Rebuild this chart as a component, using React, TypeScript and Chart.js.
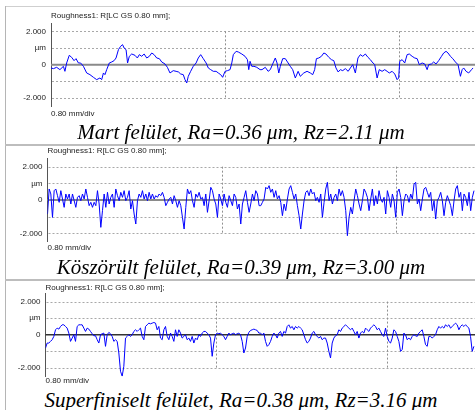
import React, { useEffect, useRef } from "react";
import { Chart, registerables } from "chart.js";

Chart.register(...registerables);

// ---------- data ----------
const PANEL_TITLE = "Roughness1: R[LC GS 0.80 mm];";
const X_DIV_LABEL = "0.80 mm/div";
const X_DIV_MM = 0.8;

const Y_TICK_VALUES = [-2, -1, 0, 1, 2];
const Y_TICK_LABELS = ["-2.000", "", "0", "µm", "2.000"];
const Y_MIN = -2.5;
const Y_MAX = 2.5;

const CAPTIONS = [
  "Mart felület, Ra=0.36 μm, Rz=2.11 μm",
  "Köszörült felület, Ra=0.39 μm, Rz=3.00 μm",
  "Superfiniselt felület, Ra=0.38 μm, Rz=3.16 μm",
];

// Milled profile: [x (mm), height (µm)]
const PROFILE_1 = [
  [0.000,-0.20],[0.011,-0.24],[0.026,-0.16],[0.041,-0.30],[0.057,-0.10],[0.064,-0.40],[0.072,0.10],[0.084,0.56],[0.095,0.44],[0.106,0.24],
  [0.115,0.36],[0.126,0.10],[0.136,0.10],[0.149,-0.10],[0.164,-0.50],[0.179,-0.60],[0.195,-0.76],[0.210,-0.90],[0.225,-0.80],[0.233,-0.90],
  [0.241,-0.50],[0.248,-0.60],[0.256,-0.30],[0.268,0.10],[0.279,0.16],[0.290,0.24],[0.299,0.40],[0.310,0.90],[0.320,1.10],[0.329,1.20],
  [0.336,1.00],[0.345,0.90],[0.352,0.10],[0.360,0.50],[0.371,0.64],[0.386,0.56],[0.397,0.40],[0.406,0.60],[0.417,0.50],[0.428,0.64],
  [0.440,0.40],[0.452,0.50],[0.463,0.70],[0.474,0.60],[0.486,0.40],[0.498,0.36],[0.509,0.16],[0.524,0.04],[0.535,-0.16],[0.547,-0.50],
  [0.562,-0.36],[0.575,-0.40],[0.586,-0.44],[0.596,-0.56],[0.608,-0.60],[0.616,-0.90],[0.624,-1.10],[0.631,-0.70],[0.642,-0.40],[0.654,-0.10],
  [0.667,0.10],[0.677,0.40],[0.688,0.60],[0.700,0.36],[0.713,0.10],[0.723,-0.20],[0.734,-0.30],[0.746,-0.40],[0.759,-0.40],[0.769,-0.50],
  [0.780,-0.60],[0.789,-0.76],[0.800,-0.40],[0.811,-0.36],[0.823,-0.30],[0.831,0.10],[0.838,0.60],[0.851,0.80],[0.861,0.76],[0.877,0.64],
  [0.892,0.50],[0.903,0.30],[0.909,-0.30],[0.915,0.20],[0.923,-0.10],[0.933,-0.10],[0.946,-0.16],[0.961,-0.30],
  [0.970,-0.30],[0.985,-0.16],[0.998,-0.40],[1.008,-0.30],[1.019,0.04],[1.031,0.40],[1.039,0.10],[1.047,-0.50],[1.054,-0.10],[1.065,0.36],
  [1.077,0.36],[1.090,0.10],[1.100,-0.10],[1.111,-0.30],[1.123,-0.80],[1.136,-0.40],[1.146,-0.70],[1.162,-0.50],[1.177,-0.40],[1.192,-0.50],
  [1.203,-0.60],[1.212,-0.30],[1.220,0.36],[1.231,0.40],[1.243,0.50],[1.254,0.70],[1.264,0.64],[1.277,0.44],[1.289,0.30],[1.300,0.24],
  [1.310,-0.20],[1.320,-0.44],[1.330,-0.30],[1.341,-0.36],[1.353,-0.24],[1.366,-0.40],[1.376,-0.20],[1.387,0.00],[1.399,-0.50],[1.411,0.40],
  [1.422,0.60],[1.433,0.50],[1.445,0.64],[1.457,0.44],[1.468,0.30],[1.476,0.16],[1.488,0.00],[1.499,-0.80],[1.509,-0.30],[1.522,-0.40],
  [1.534,-0.30],[1.545,-0.40],[1.555,-0.50],[1.568,-0.40],[1.580,-0.56],[1.591,-0.90],[1.598,-0.80],[1.603,0.20],[1.614,0.30],[1.626,0.10],
  [1.637,0.60],[1.647,0.64],[1.660,0.50],[1.672,0.40],[1.683,0.36],[1.693,0.00],[1.706,0.10],[1.718,0.04],[1.729,-0.30],[1.736,0.00],
  [1.749,0.04],[1.759,0.16],[1.770,0.04],[1.782,0.24],[1.795,0.50],[1.805,0.70],[1.816,0.80],[1.825,0.70],[1.836,0.50],[1.847,0.36],
  [1.859,0.16],[1.871,0.00],[1.882,-0.70],[1.890,-0.30],[1.897,-0.20],[1.908,-0.40],[1.920,-0.50],[1.933,-0.30],[1.940,-0.20],
];

// Ground profile: heights (µm), sampled every PROFILE_2_STEP_MM
const PROFILE_2_STEP_MM = 0.00766;
const PROFILE_2 = [
  -0.84,0.66,0.36,-1.04,0.56,0.66,0.26,-0.14,0.56,0.06,-0.44,0.36,0.06,0.36,-0.24,0.36,-0.04,-0.44,0.16,0.26,
  -0.04,0.36,0.06,0.66,0.16,-0.34,-0.14,-0.44,-0.14,-0.34,0.56,-0.24,-1.64,-0.64,0.36,-0.44,0.46,-0.24,0.16,0.36,
  -0.44,0.66,0.26,-0.04,0.46,0.16,0.56,-0.04,0.16,0.56,-0.54,-0.04,-0.84,-1.44,-0.04,0.36,0.16,0.56,0.06,0.36,
  -0.04,0.46,0.06,0.36,0.06,0.26,0.16,0.36,0.26,0.46,0.16,-0.34,-0.14,0.06,0.16,-0.24,0.26,-0.04,-0.44,-0.04,
  -0.34,-1.04,-1.74,-0.44,0.66,0.36,0.56,-0.04,-0.44,0.36,0.16,0.46,0.06,0.16,-0.34,0.36,-0.74,-0.04,0.76,0.56,
  0.06,-0.24,-1.04,0.36,0.06,-0.34,0.36,-0.14,-0.44,0.26,-0.04,-0.34,0.36,0.16,-0.54,-0.24,-1.44,-0.24,0.16,0.56,
  -0.14,-0.74,-0.24,0.36,-0.04,0.56,0.36,-0.34,
  -0.34,-0.14,0.06,0.76,0.66,0.86,0.46,0.66,0.16,0.56,0.06,0.26,-0.14,-0.94,-0.24,-0.64,0.06,0.66,0.86,0.46,
  0.06,0.36,-0.34,-0.94,-1.74,-0.84,-0.04,0.46,0.56,0.26,0.66,0.36,0.46,-0.04,0.16,-0.14,0.36,-1.04,-0.14,0.66,
  1.06,-0.04,0.36,-0.24,0.16,0.36,-0.04,0.66,0.26,0.56,0.16,-0.64,-2.14,-1.04,-0.44,-0.84,-0.04,0.66,0.26,-0.24,
  -0.64,-0.04,0.66,0.46,0.16,-0.64,0.06,0.66,-0.34,0.26,-0.24,0.56,0.06,-0.14,0.16,-0.84,0.56,0.16,-0.44,0.36,
  -0.04,-1.04,0.46,0.66,0.16,-0.94,-0.04,0.36,0.26,-0.14,0.36,0.06,0.96,1.06,-0.24,0.06,-0.64,0.06,0.66,0.76,
  0.46,0.16,0.46,-0.64,-0.04,-1.14,-0.04,0.16,0.46,-0.04,-0.94,-0.14,0.26,-0.04,-0.34,-0.94,-0.04,0.66,0.86,0.16,
  0.46,-0.64,0.36,0.16,-0.34,0.46,-0.64,0.16,0.56,
];

// Superfinished profile: heights (µm), sampled every PROFILE_3_STEP_MM
const PROFILE_3_STEP_MM = 0.00782;
const PROFILE_3 = [
  -0.80,-0.50,-0.50,-0.40,-0.30,-0.10,0.30,0.40,0.34,0.50,0.60,0.60,0.50,0.40,0.10,-0.40,-0.20,0.00,-0.40,0.50,
  0.60,0.60,0.60,0.40,0.20,0.40,0.34,0.20,0.06,-0.06,-0.06,-0.30,-0.50,0.00,0.06,0.10,-0.70,0.00,0.14,0.06,
  -0.10,-0.40,-0.30,-0.40,-1.10,-2.20,-2.50,-1.90,-0.20,-0.10,0.00,-0.10,0.00,0.20,0.30,0.20,0.30,0.40,-0.10,-0.30,
  0.50,0.60,0.70,0.66,0.70,0.74,0.70,0.30,0.50,-0.20,-0.30,0.30,0.50,-0.10,-0.30,0.10,-0.10,-0.40,0.30,-0.10,
  0.30,0.10,-0.20,-0.10,0.00,-0.30,-0.20,-0.40,-0.10,-0.50,-0.20,-0.30,0.00,-0.10,0.10,0.20,0.20,0.10,0.00,-0.20,
  -1.30,-0.50,0.00,0.10,0.06,0.10,0.00,-0.10,-0.30,-0.10,0.10,0.00,0.06,0.10,0.00,0.06,0.10,0.00,-0.40,-1.10,
  -0.80,-0.10,0.14,0.26,0.30,0.34,0.30,0.26,0.10,
  0.10,0.00,0.10,-0.40,-0.70,-0.60,-0.40,-0.10,0.10,0.00,-0.20,0.10,0.20,-0.10,0.20,0.10,0.50,0.60,0.40,0.50,
  0.30,0.50,0.40,0.50,0.40,0.30,0.00,-0.30,-0.50,-0.40,-0.20,0.10,0.20,0.00,-0.10,-0.20,-0.10,-0.30,-0.20,-0.20,
  -0.50,-1.00,-1.40,-0.50,-0.20,-0.06,0.00,0.30,0.20,0.40,0.50,0.60,0.50,0.40,0.30,0.40,0.20,0.00,0.20,-0.20,
  0.10,0.20,0.10,0.40,0.30,0.20,0.40,0.50,0.60,0.50,0.30,0.40,0.20,0.00,-0.10,0.40,-0.10,-0.40,-0.50,-0.20,
  0.30,0.20,-0.10,-0.40,-1.00,-0.90,0.10,0.00,-0.30,-0.20,-0.30,-0.10,0.00,-0.06,-0.10,0.10,0.20,0.30,-0.10,-0.60,
  -0.70,-0.10,-0.10,-0.20,-0.10,0.00,0.30,0.50,0.40,0.50,0.40,0.60,0.50,0.60,0.40,0.50,0.60,0.70,0.60,0.30,
  0.50,0.60,0.50,0.60,0.50,0.40,-0.10,-1.00,-0.70,
];

// ---------- layout / style ----------
const FONT_SANS = '"Liberation Sans", Arial, sans-serif';
const FONT_SERIF = '"Liberation Serif", "Times New Roman", serif';

const PANELS = [
  {
    points: PROFILE_1.map(([x, y]) => ({ x, y })),
    top: 0, height: 122, axisWidth: 51, padTop: 23, padBottom: 15.7,
    xMax: 1.949, titleY: 15.5, footY: 113.5,
    zeroColor: "#8a8a8a", zeroWidth: 2, captionTop: 120,
  },
  {
    points: PROFILE_2.map((y, i) => ({ x: i * PROFILE_2_STEP_MM, y })),
    top: 146, height: 110, axisWidth: 47.5, padTop: 12.3, padBottom: 14.3,
    xMax: 1.9655, titleY: 5, footY: 102,
    zeroColor: "#8a8a8a", zeroWidth: 2, captionTop: 254.5,
  },
  {
    points: PROFILE_3.map((y, i) => ({ x: i * PROFILE_3_STEP_MM, y })),
    top: 281, height: 105, axisWidth: 45.5, padTop: 12.3, padBottom: 9.3,
    xMax: 2.015, titleY: 7, footY: 100,
    zeroColor: "#333333", zeroWidth: 1.5, captionTop: 387.5,
  },
];

function makeDecorPlugin(panel: any) {
  return {
    id: "roughDecor",
    beforeDatasetsDraw(chart: any) {
      const { ctx, chartArea, scales } = chart;
      const xs = scales.x;
      const ys = scales.y;
      ctx.save();
      ctx.lineWidth = 1;
      ctx.setLineDash([2, 2]);
      ctx.strokeStyle = "#a8a8a8";
      for (const v of Y_TICK_VALUES) {
        if (v === 0) continue;
        const y = Math.round(ys.getPixelForValue(v)) + 0.5;
        ctx.beginPath();
        ctx.moveTo(chartArea.left + 1, y);
        ctx.lineTo(chartArea.right, y);
        ctx.stroke();
      }
      ctx.strokeStyle = "#909090";
      const yTop = ys.getPixelForValue(Y_TICK_VALUES[Y_TICK_VALUES.length - 1]);
      const yBot = ys.getPixelForValue(Y_TICK_VALUES[0]);
      for (let d = X_DIV_MM; d < panel.xMax; d += X_DIV_MM) {
        const x = Math.round(xs.getPixelForValue(d)) + 0.5;
        ctx.beginPath();
        ctx.moveTo(x, yTop);
        ctx.lineTo(x, yBot);
        ctx.stroke();
      }
      ctx.setLineDash([]);
      ctx.strokeStyle = panel.zeroColor;
      ctx.lineWidth = panel.zeroWidth;
      const y0 = ys.getPixelForValue(0);
      ctx.beginPath();
      ctx.moveTo(chartArea.left, y0);
      ctx.lineTo(chartArea.right, y0);
      ctx.stroke();
      ctx.restore();
    },
    afterDraw(chart: any) {
      const { ctx, chartArea } = chart;
      ctx.save();
      ctx.font = `8px ${FONT_SANS}`;
      ctx.fillStyle = "#222";
      ctx.textAlign = "left";
      ctx.textBaseline = "middle";
      ctx.fillText(PANEL_TITLE, chartArea.left, panel.titleY);
      ctx.fillText(X_DIV_LABEL, chartArea.left, panel.footY);
      ctx.restore();
    },
  };
}

function ProfileChart({ panel }: { panel: any }) {
  const ref = useRef<HTMLCanvasElement>(null);
  useEffect(() => {
    const canvas = ref.current;
    if (!canvas) return;
    const chart = new Chart(canvas, {
      type: "line",
      data: {
        datasets: [
          {
            data: panel.points,
            borderColor: "#0000ff",
            borderWidth: 1,
            pointRadius: 0,
            fill: false,
            tension: 0,
          },
        ],
      },
      options: {
        animation: false,
        responsive: false,
        devicePixelRatio: 1,
        layout: { padding: { left: 0, right: 0, top: panel.padTop, bottom: panel.padBottom } },
        plugins: { legend: { display: false }, tooltip: { enabled: false }, title: { display: false } },
        scales: {
          x: { type: "linear", min: 0, max: panel.xMax, display: false },
          y: {
            type: "linear",
            min: Y_MIN,
            max: Y_MAX,
            position: "left",
            afterFit: (s: any) => { s.width = panel.axisWidth; },
            afterBuildTicks: (s: any) => { s.ticks = Y_TICK_VALUES.map((v) => ({ value: v })); },
            ticks: {
              autoSkip: false,
              padding: 5,
              color: "#222",
              font: { family: FONT_SANS, size: 8 },
              callback: (v: any) => {
                const i = Y_TICK_VALUES.indexOf(Number(v));
                return i >= 0 ? Y_TICK_LABELS[i] : "";
              },
            },
            grid: { display: false, drawTicks: false },
            border: { display: true, color: "#555", width: 1 },
          },
        },
      } as any,
      plugins: [makeDecorPlugin(panel)],
    } as any);
    return () => chart.destroy();
  }, []);
  return (
    <canvas
      ref={ref}
      width={475}
      height={panel.height}
      style={{ position: "absolute", left: 0, top: panel.top, width: 475, height: panel.height }}
    />
  );
}

export default function App() {
  const line = (style: React.CSSProperties) => (
    <div style={{ position: "absolute", background: "#bdbdbd", ...style }} />
  );
  return (
    <div style={{ position: "absolute", left: 0, top: 0, width: 475, height: 410, background: "#fff", overflow: "hidden" }}>
      {line({ left: 5, top: 6, width: 470, height: 1, background: "#cfcfcf" })}
      {line({ left: 5, top: 6, width: 1, height: 404, background: "#b5b5b5" })}
      {line({ left: 5, top: 144, width: 470, height: 2 })}
      {line({ left: 5, top: 279, width: 470, height: 2 })}
      {PANELS.map((p, i) => (
        <ProfileChart key={i} panel={p} />
      ))}
      {PANELS.map((p, i) => (
        <div
          key={"c" + i}
          style={{
            position: "absolute",
            left: 6,
            width: 470,
            top: p.captionTop,
            textAlign: "center",
            fontFamily: FONT_SERIF,
            fontStyle: "italic",
            fontSize: 21,
            lineHeight: "24px",
            color: "#000",
            whiteSpace: "nowrap",
          }}
        >
          {CAPTIONS[i]}
        </div>
      ))}
    </div>
  );
}
